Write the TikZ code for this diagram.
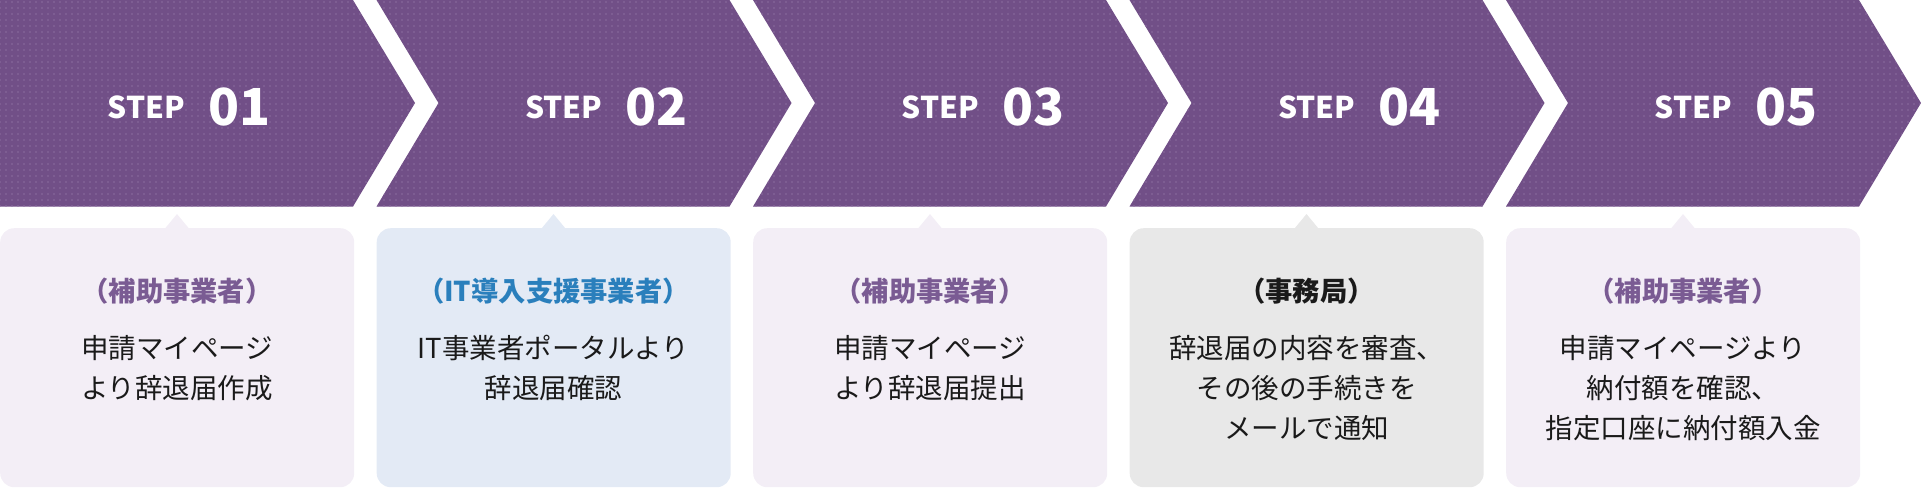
\documentclass[tikz,border=0pt]{standalone}
\usepackage{fontspec}
\setmainfont{Noto Sans CJK JP}
\usetikzlibrary{patterns.meta}
\definecolor{chev}{HTML}{714F87}
\definecolor{dotc}{HTML}{8A6D9F}
\definecolor{pbox}{HTML}{F3EEF6}
\definecolor{bbox}{HTML}{E3EAF5}
\definecolor{gbox}{HTML}{E8E8E8}
\definecolor{ptitle}{HTML}{7A5B93}
\definecolor{btitle}{HTML}{2A7FBC}
\definecolor{txt}{HTML}{1A1A1A}
\newcommand\ttlL{\makebox[0.55em][r]{（}}
\newcommand\ttlR{\makebox[0.55em][l]{）}}
\tikzset{
 chevron/.style={fill=chev, postaction={pattern={Dots[distance=6pt,radius=0.9pt]}, pattern color=dotc}},
 stepword/.style={text=white, font=\fontsize{30}{30}\selectfont\bfseries, inner sep=0pt, anchor=base east},
 stepnum/.style={text=white, font=\fontsize{51}{51}\selectfont\bfseries, inner sep=0pt, anchor=base west},
 card/.style={rounded corners=14pt, minimum width=354pt, minimum height=259pt, anchor=north west, inner sep=0pt, draw=none},
 ttl/.style={font=\fontsize{27.3}{27.3}\selectfont\bfseries, inner sep=0pt, anchor=base},
 body/.style={font=\fontsize{27.5}{27.5}\selectfont, text=txt, inner sep=0pt, anchor=base},
}
\begin{document}
\begin{tikzpicture}[x=1pt,y=-1pt]
\useasboundingbox (0,0) rectangle (1921,488);
% chevrons
\path[chevron] (0,0) -- (353,0) -- (415,103) -- (353,206.5) -- (0,206.5) -- cycle;
\foreach \k in {1,2,3,4}{
  \pgfmathsetmacro\xo{376.5*\k}
  \path[chevron] (\xo,0) -- (\xo+353,0) -- (\xo+415,103) -- (\xo+353,206.5) -- (\xo,206.5) -- (\xo+62,103) -- cycle;
}
% step labels
\node[stepword] (s1) at (185,118) {STEP};
\node[stepnum] (n1) at (208,125.5) {01};
\node[stepword] (s2) at (602.5,118) {STEP};
\node[stepnum] (n2) at (625.5,125.5) {02};
\node[stepword] (s3) at (979,118) {STEP};
\node[stepnum] (n3) at (1002,125.5) {03};
\node[stepword] (s4) at (1355.5,118) {STEP};
\node[stepnum] (n4) at (1378.5,125.5) {04};
\node[stepword] (s5) at (1732,118) {STEP};
\node[stepnum] (n5) at (1755,125.5) {05};
% cards
\node[card, fill=pbox] (c1) at (0,228) {};
\node[card, fill=bbox] (c2) at (376.5,228) {};
\node[card, fill=pbox] (c3) at (753,228) {};
\node[card, fill=gbox] (c4) at (1129.5,228) {};
\node[card, fill=pbox] (c5) at (1506,228) {};
\fill[pbox] (165,228.5) -- (177,214) -- (189,228.5) -- cycle;
\fill[bbox] (541.5,228.5) -- (553.5,214) -- (565.5,228.5) -- cycle;
\fill[pbox] (918,228.5) -- (930,214) -- (942,228.5) -- cycle;
\fill[gbox] (1294.5,228.5) -- (1306.5,214) -- (1318.5,228.5) -- cycle;
\fill[pbox] (1671,228.5) -- (1683,214) -- (1695,228.5) -- cycle;
% card 1
\node[ttl, text=ptitle] (t1) at (177,301) {\ttlL 補助事業者\ttlR};
\node[body] (b1a) at (177,358) {申請マイページ};
\node[body] (b1b) at (177,398) {より辞退届作成};
% card 2
\node[ttl, text=btitle] (t2) at (553.5,301) {\ttlL IT導入支援事業者\ttlR};
\node[body] (b2a) at (553.5,358) {IT事業者ポータルより};
\node[body] (b2b) at (553.5,398) {辞退届確認};
% card 3
\node[ttl, text=ptitle] (t3) at (930,301) {\ttlL 補助事業者\ttlR};
\node[body] (b3a) at (930,358) {申請マイページ};
\node[body] (b3b) at (930,398) {より辞退届提出};
% card 4
\node[ttl, text=txt] (t4) at (1306.5,301) {\ttlL 事務局\ttlR};
\node[body] (b4a) at (1306.5,358) {辞退届の内容を審査、};
\node[body] (b4b) at (1306.5,398) {その後の手続きを};
\node[body] (b4c) at (1306.5,438) {メールで通知};
% card 5
\node[ttl, text=ptitle] (t5) at (1683,301) {\ttlL 補助事業者\ttlR};
\node[body] (b5a) at (1683,358) {申請マイページより};
\node[body] (b5b) at (1683,398) {納付額を確認、};
\node[body] (b5c) at (1683,438) {指定口座に納付額入金};
\end{tikzpicture}
\end{document}
